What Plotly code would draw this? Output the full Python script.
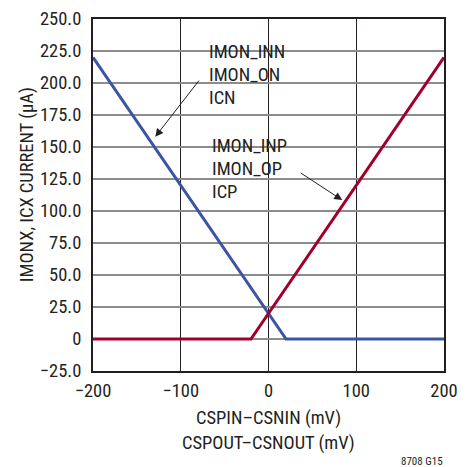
import plotly.graph_objects as go

# Data
x_neg = [-200, 20, 200]          # IMON_INN / IMON_ON / ICN
y_neg = [220, 0, 0]
x_pos = [-200, -20, 200]         # IMON_INP / IMON_OP / ICP
y_pos = [0, 0, 220]

x_ticks = [-200, -100, 0, 100, 200]
x_tick_text = ["\u2212200", "\u2212100", "0", "100", "200"]
y_ticks = [-25, 0, 25, 50, 75, 100, 125, 150, 175, 200, 225, 250]
y_tick_text = ["\u221225.0", "0", "25.0", "50.0", "75.0", "100.0", "125.0",
               "150.0", "175.0", "200.0", "225.0", "250.0"]

FONT = "Roboto Condensed, Liberation Sans Narrow, sans-serif"
TXT = "#231f20"
FS = 18.5

fig = go.Figure()
fig.add_trace(go.Scatter(x=x_neg, y=y_neg, mode="lines",
                         line=dict(color="#3b54a3", width=3), showlegend=False))
fig.add_trace(go.Scatter(x=x_pos, y=y_pos, mode="lines",
                         line=dict(color="#a1002c", width=3), showlegend=False))

# white label boxes covering grid
fig.add_shape(type="rect", x0=-75.8, x1=29, y0=180.5, y1=236, xref="x", yref="y",
              fillcolor="white", line=dict(width=0), layer="below")
fig.add_shape(type="rect", x0=-75.8, x1=32.5, y0=108.6, y1=162.5, xref="x", yref="y",
              fillcolor="white", line=dict(width=0), layer="below")

labels1 = [("IMON_INN", 224.0), ("IMON_ON", 206.0), ("ICN", 188.0)]
labels2 = [("IMON_INP", 150.5), ("IMON_OP", 132.5), ("ICP", 114.5)]
for t, yv in labels1:
    fig.add_annotation(x=-70.5, y=yv, text=t, showarrow=False, xanchor="left",
                       yanchor="middle", font=dict(family=FONT, size=FS, color=TXT))
for t, yv in labels2:
    fig.add_annotation(x=-67, y=yv, text=t, showarrow=False, xanchor="left",
                       yanchor="middle", font=dict(family=FONT, size=FS, color=TXT))

fig.add_annotation(x=-129, y=158, ax=-78, ay=203, xref="x", yref="y",
                   axref="x", ayref="y", text="", showarrow=True,
                   arrowhead=2, arrowsize=1.6, arrowwidth=1, arrowcolor=TXT)
fig.add_annotation(x=84, y=108.5, ax=35, ay=130.5, xref="x", yref="y",
                   axref="x", ayref="y", text="", showarrow=True,
                   arrowhead=2, arrowsize=1.6, arrowwidth=1, arrowcolor=TXT)

# axis titles
fig.add_annotation(x=0.5, y=-0.133, xref="paper", yref="paper",
                   text="CSPIN\u2013CSNIN (mV)", showarrow=False,
                   xanchor="center", yanchor="middle",
                   font=dict(family=FONT, size=FS, color=TXT))
fig.add_annotation(x=0.5, y=-0.205, xref="paper", yref="paper",
                   text="CSPOUT\u2013CSNOUT (mV)", showarrow=False,
                   xanchor="center", yanchor="middle",
                   font=dict(family=FONT, size=FS, color=TXT))
fig.add_annotation(x=-0.188, y=0.528, xref="paper", yref="paper",
                   text="IMONX, ICX CURRENT (\u03bcA)", showarrow=False,
                   textangle=-90, xanchor="center", yanchor="middle",
                   font=dict(family=FONT, size=FS, color=TXT))
fig.add_annotation(x=1.003, y=-0.256, xref="paper", yref="paper", text="8708 G15",
                   showarrow=False, xanchor="right", yanchor="middle",
                   font=dict(family=FONT, size=11, color=TXT))

fig.update_layout(
    width=464, height=459,
    margin=dict(l=85, r=28, t=11, b=96),
    paper_bgcolor="white", plot_bgcolor="white",
    font=dict(family=FONT, size=FS, color=TXT),
    xaxis=dict(range=[-200, 200], tickvals=x_ticks, ticktext=x_tick_text,
               showgrid=True, gridcolor=TXT, gridwidth=1,
               zeroline=False, showline=True, linecolor=TXT, linewidth=2,
               mirror=True, ticks="", tickfont=dict(size=FS),
               ticklabelstandoff=2, automargin=False),
    yaxis=dict(range=[-25, 250], tickvals=y_ticks, ticktext=y_tick_text,
               showgrid=True, gridcolor="#8c8c8c", gridwidth=2,
               zeroline=False, showline=True, linecolor=TXT, linewidth=2,
               mirror=True, ticks="", tickfont=dict(size=FS),
               ticklabelstandoff=6, automargin=False),
)

fig.write_html("out.html")
